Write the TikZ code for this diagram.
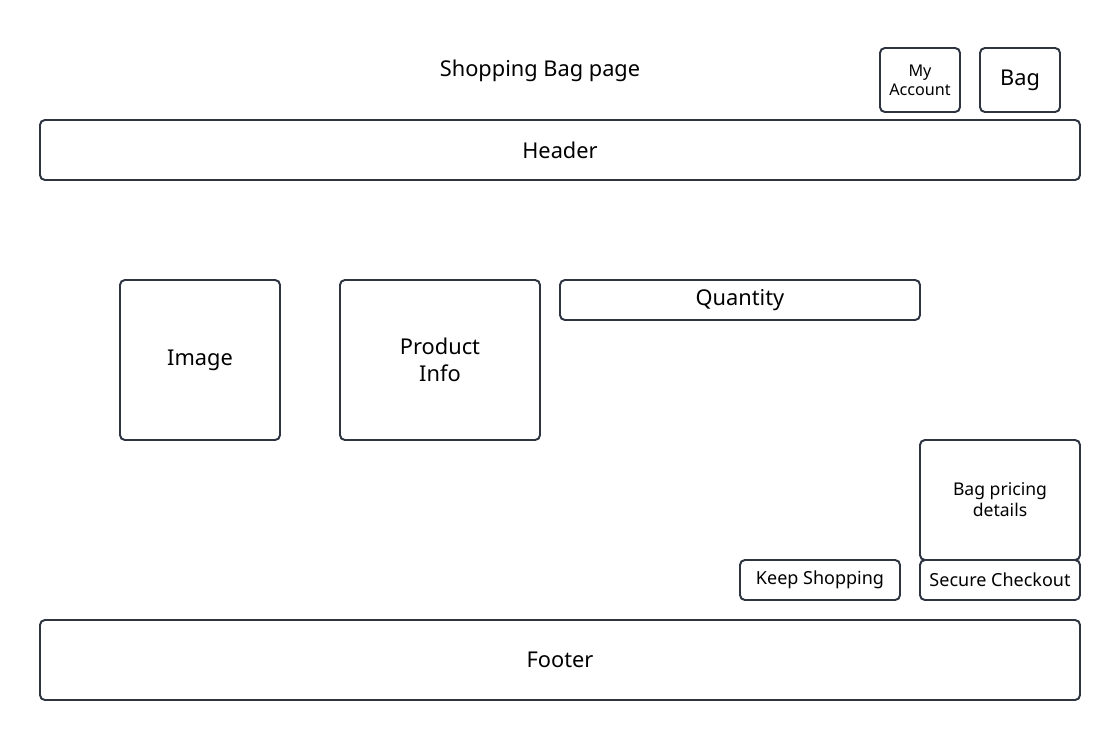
\documentclass[tikz,border=0pt]{standalone}
\usepackage{fontspec}
\setmainfont{Noto Sans}
\usepackage{tikz}

\definecolor{edge}{HTML}{2F3540}
\tikzset{
  box/.style={draw=edge, line width=1.4pt, rounded corners=3.5pt, align=center, inner sep=2pt},
  big/.style={font=\fontsize{15.5}{19}\selectfont},
  small/.style={font=\fontsize{11.5}{13.5}\selectfont},
  mid/.style={font=\fontsize{12.8}{15}\selectfont},
}

\begin{document}
\begin{tikzpicture}
                \useasboundingbox (0,0) rectangle (28,-18.5);
                % Title and top buttons
                \node[big] (title) at (13.5,-1.78) {Shopping Bag page};
                \node[box, small, minimum width=2cm, minimum height=1.6cm] (account) at (23,-2) {My\\Account};
                \node[box, minimum width=2cm, minimum height=1.6cm, font=\fontsize{15.5}{18}\selectfont] (bag) at (25.5,-2) {Bag};
                % Header
                \node[box, big, minimum width=26cm, minimum height=1.5cm] (header) at (14,-3.75) {Header};
                % Product row
                \node[box, big, minimum width=4cm, minimum height=4cm] (image) at (5,-9) {Image};
                \node[box, big, minimum width=5cm, minimum height=4cm] (info) at (11,-9) {Product\\Info};
                \node[box, big, minimum width=9cm, minimum height=1cm] (qty) at (18.5,-7.5) {Quantity};
                % Pricing and buttons
                \node[box, minimum width=4cm, minimum height=3cm, font=\fontsize{12.5}{15}\selectfont] (pricing) at (25,-12.5) {Bag pricing\\details};
                \node[box, mid, minimum width=4cm, minimum height=1cm] (keep) at (20.5,-14.5) {Keep Shopping};
                \node[box, mid, minimum width=4cm, minimum height=1cm] (checkout) at (25,-14.5) {Secure Checkout};
                % Footer
                \node[box, big, minimum width=26cm, minimum height=2cm] (footer) at (14,-16.5) {Footer};
            \end{tikzpicture}
\end{document}
